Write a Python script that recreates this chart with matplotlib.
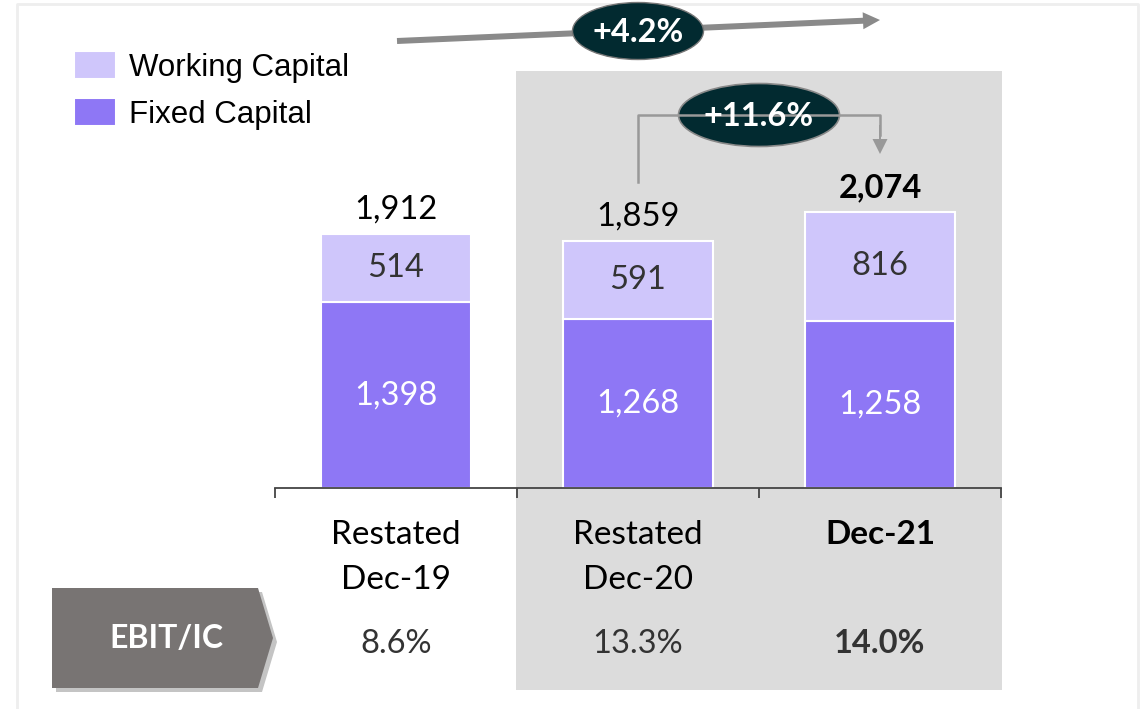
import numpy as np
import matplotlib
matplotlib.use('Agg')
import matplotlib.pyplot as plt
from matplotlib.patches import Rectangle, Ellipse, Polygon, FancyArrow

# data
cat_line1 = ['Restated', 'Restated', 'Dec-21']
cat_line2 = ['Dec-19', 'Dec-20', '']
fixed_cap = [1398, 1268, 1258]
working_cap = [514, 591, 816]
totals = [1912, 1859, 2074]
ebit_ic = ['8.6%', '13.3%', '14.0%']
growth_total = '+4.2%'
growth_yoy = '+11.6%'

c_work = '#cfc6fb'
c_fixed = '#8e77f5'
c_box = '#dcdcdc'
c_oval = '#022a30'
c_arrow = '#8a8a8a'
calib = 'Lato'

W, H = 1145, 709
fig = plt.figure(figsize=(W / 100, H / 100), dpi=100)

# background layer in pixel coords (y down)
bg = fig.add_axes([0, 0, 1, 1], zorder=0)
bg.set_xlim(0, W)
bg.set_ylim(H, 0)
bg.axis('off')
bg.add_patch(Rectangle((516, 71), 486, 619, color=c_box, lw=0))
bg.plot([17, 17, 1138, 1138], [H, 4, 4, H], color='#eeeeee', lw=2)

# EBIT/IC tag with shadow
tag = [(52, 588), (258, 588), (273, 638), (258, 688), (52, 688)]
bg.add_patch(Polygon([(x + 4, y + 4) for x, y in tag], color='#c4c4c4', lw=0))
bg.add_patch(Polygon(tag, color='#787473', lw=0))
bg.text(166, 638, 'EBIT/IC', color='white', fontsize=23, fontweight='bold',
        family=calib, ha='center', va='center')

# bar chart
ax = fig.add_axes([275 / W, (H - 488) / H, 726 / W, 483 / H], zorder=1)
ax.patch.set_alpha(0)
x = np.arange(len(totals))
bw = 150 / 242
b1 = ax.bar(x, fixed_cap, bw, color=c_fixed, edgecolor='white', lw=1.5,
            label='Fixed Capital')
b2 = ax.bar(x, working_cap, bw, bottom=fixed_cap, color=c_work,
            edgecolor='white', lw=1.5, label='Working Capital')
ax.set_xlim(-0.5, 2.5)
ax.set_ylim(0, 483 / 0.133)

for s in ['top', 'left', 'right']:
    ax.spines[s].set_visible(False)
ax.spines['bottom'].set_color('#444444')
ax.spines['bottom'].set_linewidth(1.3)
ax.set_yticks([])
ax.set_xticks([-0.5, 0.5, 1.5, 2.5])
ax.set_xticklabels([])
ax.tick_params(axis='x', length=7, width=1.3, color='#444444', direction='out')

for i in range(len(x)):
    bold = 'bold' if i == 2 else 'normal'
    ax.text(i, fixed_cap[i] / 2, f'{fixed_cap[i]:,}', ha='center', va='center',
            color='white', fontsize=23.5, family=calib)
    ax.text(i, fixed_cap[i] + working_cap[i] / 2, f'{working_cap[i]:,}',
            ha='center', va='center', color='#333333', fontsize=23.5, family=calib)
    ax.annotate(f'{totals[i]:,}', (i, totals[i]), xytext=(0, 11),
                textcoords='offset points', ha='center', va='baseline',
                fontsize=23.5, family=calib, fontweight=bold, color='black')
    ax.annotate(cat_line1[i], (i, 0), xytext=(0, -40.5), textcoords='offset points',
                ha='center', va='baseline', fontsize=24, family=calib,
                fontweight=bold, color='black', annotation_clip=False)
    ax.annotate(cat_line2[i], (i, 0), xytext=(0, -73), textcoords='offset points',
                ha='center', va='baseline', fontsize=24, family=calib,
                color='black', annotation_clip=False)
    ax.annotate(ebit_ic[i], (i, 0), xytext=(0, -119), textcoords='offset points',
                ha='center', va='baseline', fontsize=23.5, family=calib,
                fontweight=bold, color='#333333', annotation_clip=False)

ax.legend(handles=[b2, b1], loc='upper left', bbox_to_anchor=(74 / W, 1 - 51 / H),
          bbox_transform=fig.transFigure, frameon=False,
          prop={'family': 'Liberation Sans', 'size': 22.5},
          handlelength=1.35, handleheight=1.0, handletextpad=0.42,
          labelspacing=0.5, borderpad=0, borderaxespad=0)

# foreground: growth arrows and ovals
fg = fig.add_axes([0, 0, 1, 1], zorder=2)
fg.set_xlim(0, W)
fg.set_ylim(H, 0)
fg.axis('off')
fg.add_patch(FancyArrow(397, 41, 483, -21, width=6, head_width=17, head_length=17,
                        length_includes_head=True, color=c_arrow, lw=0))
fg.plot([638, 638, 880, 880], [182, 115, 115, 135], color='#999999', lw=1.8)
fg.add_patch(FancyArrow(880, 125, 0, 29, width=2, head_width=15, head_length=15,
                        length_includes_head=True, color='#999999', lw=0))
fg.add_patch(Ellipse((638, 31), 131, 57, facecolor=c_oval, edgecolor='#777777', lw=1))
fg.add_patch(Ellipse((759, 115), 161, 63, facecolor=c_oval, edgecolor='#888888', lw=1.2))
fg.text(638, 32, growth_total, color='white', fontsize=23.5, fontweight='bold',
        family=calib, ha='center', va='center')
fg.text(759, 116, growth_yoy, color='white', fontsize=23.5, fontweight='bold',
        family=calib, ha='center', va='center')

fig.savefig('out.png', dpi=100)
